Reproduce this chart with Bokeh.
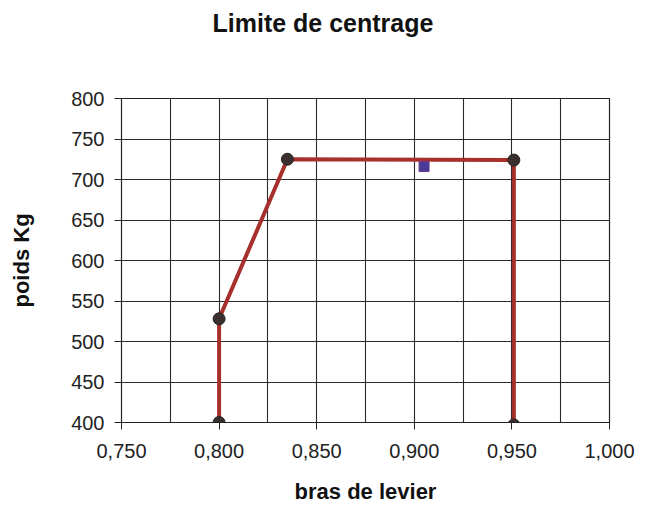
from bokeh.plotting import figure
from bokeh.models import FixedTicker, Range1d, Title
from bokeh.embed import file_html
from bokeh.resources import INLINE

# Data
limit_x = [0.800, 0.800, 0.835, 0.951, 0.951]
limit_y = [400, 528, 725, 724, 397]
point_x = [0.905]
point_y = [716]

x_ticks = [0.750, 0.800, 0.850, 0.900, 0.950, 1.000]
x_tick_labels = ["0,750", "0,800", "0,850", "0,900", "0,950", "1,000"]
x_minor = [0.775, 0.825, 0.875, 0.925, 0.975]
y_ticks = [400, 450, 500, 550, 600, 650, 700, 750, 800]
title_text = "Limite de centrage"

FONT = "Liberation Sans"

p = figure(width=638, height=506, output_backend="svg", toolbar_location=None,
           x_range=Range1d(0.75, 1.0), y_range=Range1d(400, 800), title=None)
p.min_border_left = 121
p.min_border_right = 29
p.min_border_top = 98
p.min_border_bottom = 84
p.outline_line_color = "#222222"
p.outline_line_width = 1.2
p.background_fill_color = "white"
p.border_fill_color = "white"

# spacer between frame and title
p.add_layout(Title(text=" ", text_font_size="1px", standoff=54), "above")
p.add_layout(Title(text=title_text, text_font=FONT, text_font_size="25px",
                   text_font_style="bold", text_color="#111111",
                   align="left", offset=91, standoff=10), "above")

p.xaxis.ticker = FixedTicker(ticks=x_ticks, minor_ticks=x_minor)
p.xaxis.major_label_overrides = {t: l for t, l in zip(x_ticks, x_tick_labels)}
p.yaxis.ticker = FixedTicker(ticks=y_ticks)
for ax in (p.xaxis, p.yaxis):
    ax.major_label_text_font = FONT
    ax.major_label_text_font_size = "20px"
    ax.major_label_text_color = "#222222"
    ax.axis_label_text_font = FONT
    ax.axis_label_text_font_size = "22px"
    ax.axis_label_text_font_style = "bold"
    ax.axis_label_text_color = "#111111"
    ax.axis_line_color = "#222222"
    ax.major_tick_line_color = "#222222"
    ax.major_tick_out = 7
    ax.major_tick_in = 0
    ax.minor_tick_out = 0
    ax.minor_tick_in = 0
p.xaxis.axis_label = "bras de levier"
p.yaxis.axis_label = "poids Kg"
p.xaxis.major_label_standoff = 14
p.yaxis.major_label_standoff = 10
p.xaxis.axis_label_standoff = 18
p.yaxis.axis_label_standoff = 34

p.xgrid.grid_line_color = "#2a2a2a"
p.xgrid.grid_line_width = 1.1
p.xgrid.minor_grid_line_color = "#2a2a2a"
p.xgrid.minor_grid_line_width = 1.1
p.ygrid.grid_line_color = "#2a2a2a"
p.ygrid.grid_line_width = 1.1

p.line(limit_x, limit_y, line_color="#a8302c", line_width=4)
p.scatter(limit_x, limit_y, size=12, fill_color="#3a3030", line_color="#2a2020")
p.scatter(point_x, point_y, marker="square", size=10, fill_color="#4a3a9a", line_color="#6a3a8a")

open("out.html", "w").write(file_html(p, INLINE))
